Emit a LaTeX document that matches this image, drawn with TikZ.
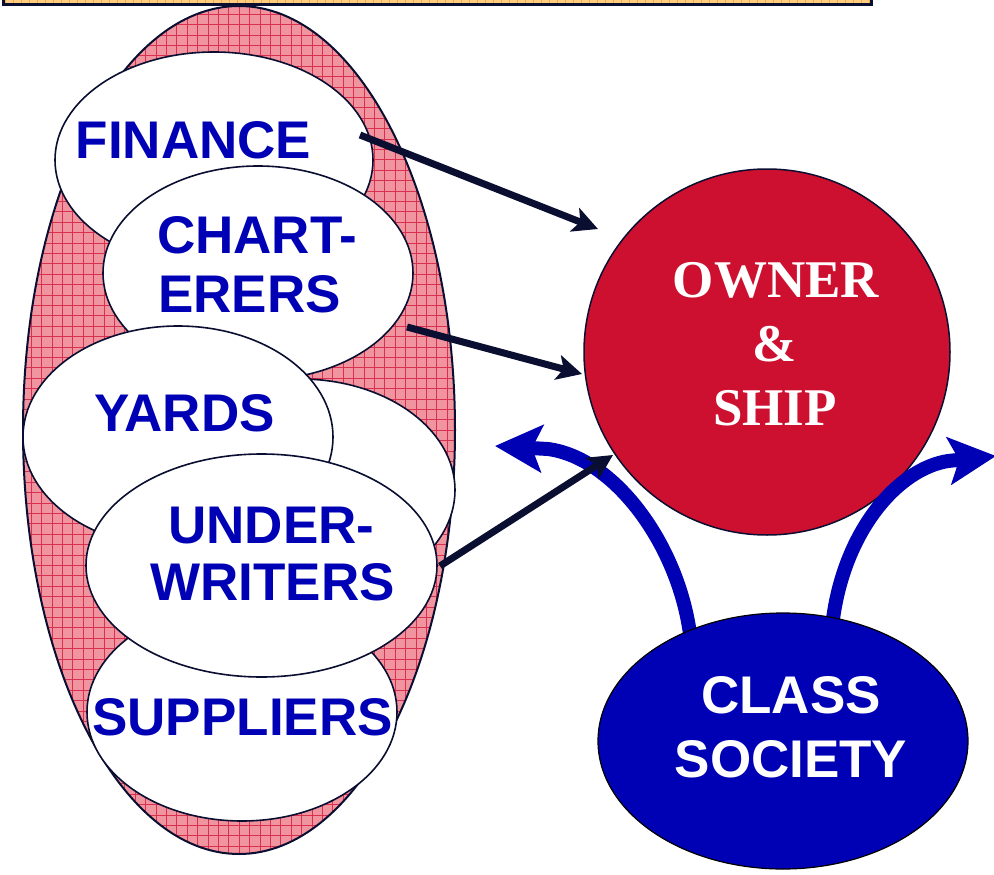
\documentclass[tikz,border=0pt]{standalone}
\usepackage{fontspec}
\setmainfont{Liberation Sans}
\newfontfamily\serifbold{Liberation Serif}
\usetikzlibrary{arrows.meta,shapes.geometric}
\definecolor{navy}{HTML}{0A0E30}
\definecolor{lblue}{HTML}{0000B4}
\definecolor{ored}{HTML}{CE1030}
\definecolor{pinkf}{HTML}{F0949F}
\definecolor{gridred}{HTML}{D8304E}
\definecolor{barfill}{HTML}{FFCC80}
\definecolor{bargrid}{HTML}{F0A848}
\tikzset{
  white ell/.style={ellipse, draw=navy, line width=1.6pt, fill=white, inner sep=0pt},
  lbl/.style={anchor=base, inner sep=0pt, text=lblue, font=\fontsize{53}{60}\selectfont\bfseries},
  lblw/.style={lbl, anchor=base west},
  ownlbl/.style={anchor=base, inner sep=0pt, text=white, font=\fontsize{53}{60}\selectfont\serifbold\bfseries},
  clslbl/.style={anchor=base, inner sep=0pt, text=white, font=\fontsize{53}{60}\selectfont\bfseries},
  bluearr/.style={draw=lblue, line width=14pt, line join=round, -{Stealth[length=47pt, width=47pt, inset=10pt]}},
  blackarr/.style={draw=navy, line width=7pt, -{Stealth[length=25pt, width=25pt, inset=6pt]}},
}
\begin{document}
\begin{tikzpicture}[x=1pt,y=-1pt]
\useasboundingbox (0,0) rectangle (994,875);
% top bar
\node[draw=navy, line width=3pt, fill=barfill, minimum width=868pt, minimum height=30pt, inner sep=0pt,
  path picture={\draw[bargrid, line width=0.5pt] (path picture bounding box.south west) grid[step=8pt] (path picture bounding box.north east);}]
  (bar) at (437,-10) {};
% big group ellipse
\node[ellipse, draw=navy, line width=2pt, fill=pinkf, minimum width=432pt, minimum height=848pt, inner sep=0pt,
  path picture={\draw[gridred, line width=0.45pt] (path picture bounding box.south west) grid[step=10.4pt] (path picture bounding box.north east);}]
  (grp) at (239,430) {};
% member ellipses
\node[white ell, minimum width=318pt, minimum height=216pt] (fin) at (214,160) {};
\node[white ell, minimum width=310pt, minimum height=214pt] (char) at (258,273) {};
\node[white ell, minimum width=310pt, minimum height=222pt] (yb) at (300,490) {};
\node[white ell, minimum width=310pt, minimum height=222pt] (yards) at (178,437) {};
\node[white ell, minimum width=310pt, minimum height=218pt] (sup) at (242,712) {};
\node[white ell, minimum width=351pt, minimum height=223pt] (under) at (261.5,565.5) {};
% labels
\node[lbl] (tfin) at (193.5,158) {FINANCE};
\node[lblw] (tchar1) at (157,253) {CHART-};
\node[lblw] (tchar2) at (158,312) {ERERS};
\node[lbl] (tyards) at (184.5,431) {YARDS};
\node[lbl] (tund1) at (271.5,543) {UNDER-};
\node[lbl] (tund2) at (272.5,600) {WRITERS};
\node[lbl] (tsup) at (242.5,735) {SUPPLIERS};
% owner & ship
\node[circle, draw=navy, line width=1.5pt, fill=ored, minimum size=366pt, inner sep=0pt] (owner) at (767,352) {};
\node[ownlbl] (town1) at (776,297) {OWNER};
\node[ownlbl] (town2) at (775,361) {\&};
\node[ownlbl] (town3) at (775,425) {SHIP};
% blue curved arrows from class society
\coordinate (csl) at (690,634);
\coordinate (csr) at (833,619);
\coordinate (midl) at (548,449);
\coordinate (midr) at (948,461);
\coordinate (tipl) at (495,446);
\coordinate (tipr) at (996,456);
\draw[bluearr] (csl) .. controls (678,545) and (615,458) .. (midl) -- (tipl);
\draw[bluearr] (csr) .. controls (845,530) and (898,469) .. (midr) -- (tipr);
% class society
\node[ellipse, draw=black, line width=1.2pt, fill=lblue, minimum width=370pt, minimum height=256pt, inner sep=0pt] (cls) at (783,741) {};
\node[clslbl] (tcls1) at (791,713) {CLASS};
\node[clslbl] (tcls2) at (791,777) {SOCIETY};
% black arrows
\coordinate (a1s) at (360,135);
\coordinate (a1e) at (598,229);
\coordinate (a2s) at (407,327);
\coordinate (a2e) at (582,374);
\coordinate (a3s) at (440,566);
\coordinate (a3e) at (613,455);
\draw[blackarr] (a1s) -- (a1e);
\draw[blackarr] (a2s) -- (a2e);
\draw[blackarr] (a3s) -- (a3e);
\end{tikzpicture}
\end{document}
